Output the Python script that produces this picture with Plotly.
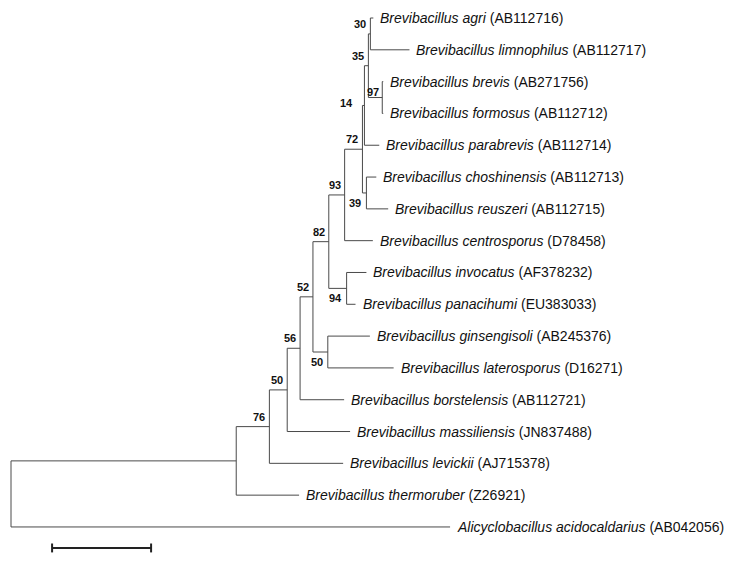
import plotly.graph_objects as go

# ---------------- data ----------------
# leaves: species name and accession
leaf_species = [
    "Brevibacillus agri", "Brevibacillus limnophilus", "Brevibacillus brevis",
    "Brevibacillus formosus", "Brevibacillus parabrevis", "Brevibacillus choshinensis",
    "Brevibacillus reuszeri", "Brevibacillus centrosporus", "Brevibacillus invocatus",
    "Brevibacillus panacihumi", "Brevibacillus ginsengisoli", "Brevibacillus laterosporus",
    "Brevibacillus borstelensis", "Brevibacillus massiliensis", "Brevibacillus levickii",
    "Brevibacillus thermoruber", "Alicyclobacillus acidocaldarius",
]
leaf_accession = [
    "AB112716", "AB112717", "AB271756", "AB112712", "AB112714", "AB112713",
    "AB112715", "D78458", "AF378232", "EU383033", "AB245376", "D16271",
    "AB112721", "JN837488", "AJ715378", "Z26921", "AB042056",
]

# tree edges (parent -> child, branch length in substitutions/site), children listed top to bottom
edge_parent = [
    "root", "root",
    "nIn", "nIn",
    "n76", "n76",
    "n50b", "n50b",
    "n56", "n56",
    "n52", "n52",
    "n82", "n82",
    "n93", "n93",
    "n72", "n72",
    "n14", "n14",
    "n35", "n35",
    "n30", "n30",
    "n97", "n97",
    "n39", "n39",
    "n94", "n94",
    "n50a", "n50a",
]
edge_child = [
    "nIn", "Alicyclobacillus acidocaldarius",
    "n76", "Brevibacillus thermoruber",
    "n50b", "Brevibacillus levickii",
    "n56", "Brevibacillus massiliensis",
    "n52", "Brevibacillus borstelensis",
    "n82", "n50a",
    "n93", "n94",
    "n72", "Brevibacillus centrosporus",
    "n14", "n39",
    "n35", "Brevibacillus parabrevis",
    "n30", "n97",
    "Brevibacillus agri", "Brevibacillus limnophilus",
    "Brevibacillus brevis", "Brevibacillus formosus",
    "Brevibacillus choshinensis", "Brevibacillus reuszeri",
    "Brevibacillus invocatus", "Brevibacillus panacihumi",
    "Brevibacillus ginsengisoli", "Brevibacillus laterosporus",
]
edge_length = [
    0.0455, 0.0887,
    0.0067, 0.0127,
    0.0036, 0.0149,
    0.0026, 0.0127,
    0.0026, 0.0089,
    0.0032, 0.0030,
    0.0032, 0.0036,
    0.0036, 0.0057,
    0.0004, 0.0008,
    0.0008, 0.0030,
    0.0004, 0.0028,
    0.0006, 0.0079,
    0.0002, 0.0002,
    0.0020, 0.0044,
    0.0040, 0.0018,
    0.0085, 0.0133,
]

# bootstrap support values at internal nodes
support_node = ["n30", "n35", "n97", "n14", "n39", "n72", "n93", "n94", "n82",
                "n50a", "n52", "n56", "n50b", "n76"]
support_value = [30, 35, 97, 14, 39, 72, 93, 94, 82, 50, 52, 56, 50, 76]

scale_bar_length = 0.02

# ---------------- styling ----------------
label_side = {"n39": "below", "n94": "below", "n50a": "below", "n14": "left", "n97": "tight"}
LINE_COLOR = "#4a4a4a"
FONT = "Liberation Sans, Arial, sans-serif"

# ---------------- layout of the tree ----------------
children = {}
blen = {}
for p, c, l in zip(edge_parent, edge_child, edge_length):
    children.setdefault(p, []).append(c)
    blen[c] = l

xpos = {"root": 0.0}
ypos = {}
row = [0]


def walk(n):
    if n in children:
        for c in children[n]:
            xpos[c] = xpos[n] + blen[c]
            walk(c)
        ys = [ypos[c] for c in children[n]]
        ypos[n] = (min(ys) + max(ys)) / 2
    else:
        ypos[n] = row[0]
        row[0] += 1


walk("root")

lx, ly = [], []
for n, cs in children.items():
    ys = [ypos[c] for c in cs]
    lx += [xpos[n], xpos[n], None]
    ly += [min(ys), max(ys), None]
    for c in cs:
        lx += [xpos[n], xpos[c], None]
        ly += [ypos[c], ypos[c], None]

fig = go.Figure()
fig.add_trace(go.Scatter(x=lx, y=ly, mode="lines",
                         line=dict(color=LINE_COLOR, width=1),
                         hoverinfo="skip", showlegend=False))

# scale bar
sb_x0 = 0.0083
sb_y = 16.66
fig.add_trace(go.Scatter(
    x=[sb_x0, sb_x0 + scale_bar_length, None, sb_x0, sb_x0, None,
       sb_x0 + scale_bar_length, sb_x0 + scale_bar_length],
    y=[sb_y, sb_y, None, sb_y - 0.14, sb_y + 0.14, None, sb_y - 0.14, sb_y + 0.14],
    mode="lines", line=dict(color="#222222", width=2),
    hoverinfo="skip", showlegend=False))

annotations = []
for sp, acc in zip(leaf_species, leaf_accession):
    annotations.append(dict(
        x=xpos[sp], y=ypos[sp], xref="x", yref="y",
        text=f"<i>{sp}</i> ({acc})", showarrow=False,
        xanchor="left", yanchor="middle", xshift=5,
        font=dict(family=FONT, size=14, color="#111111")))

for n, v in zip(support_node, support_value):
    side = label_side.get(n, "above")
    if side == "above":
        xs, ys = -2, 10
    elif side == "below":
        xs, ys = -3, -10
    elif side == "left":
        xs, ys = -9, 2
    else:
        xs, ys = -1, 6
    annotations.append(dict(
        x=xpos[n], y=ypos[n], xref="x", yref="y",
        text=f"<b>{v}</b>", showarrow=False,
        xanchor="right", yanchor="middle", xshift=xs, yshift=ys,
        font=dict(family=FONT, size=11, color="#111111")))

px = scale_bar_length / 99.0
row_h = 31.81
fig.update_layout(
    width=732, height=565,
    margin=dict(l=0, r=0, t=0, b=0),
    paper_bgcolor="white", plot_bgcolor="white",
    xaxis=dict(range=[-11 * px, 721 * px], visible=False, fixedrange=True),
    yaxis=dict(range=[(565 - 18) / row_h, -18 / row_h], visible=False, fixedrange=True),
    annotations=annotations,
)

fig.write_html("out.html", config={"displayModeBar": False},
               post_script="document.body.style.margin='0';document.body.style.overflow='hidden';")
